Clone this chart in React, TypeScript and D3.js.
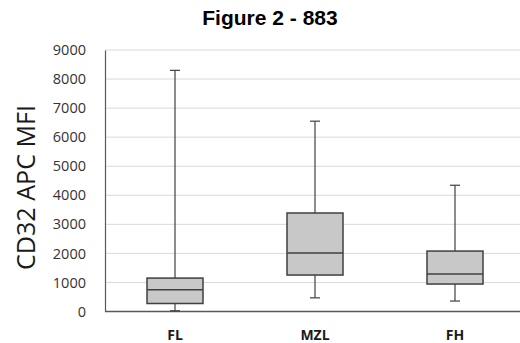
import * as d3 from 'd3';
import { useEffect, useRef } from 'react';

// Category labels and box-plot statistics
const categories = ['FL', 'MZL', 'FH'];
const whiskerLow = [25, 470, 360];
const q1 = [275, 1255, 945];
const median = [750, 2010, 1290];
const q3 = [1150, 3390, 2080];
const whiskerHigh = [8300, 6550, 4345];
const yTicks = [0, 1000, 2000, 3000, 4000, 5000, 6000, 7000, 8000, 9000];

const App = () => {
    const ref = useRef<SVGSVGElement | null>(null);

    useEffect(() => {
        const svg = d3.select(ref.current);
        svg.selectAll('*').remove();

        const left = 105;
        const right = 525;
        const top = 50;
        const bottom = 311.5;

        const x = d3.scaleBand().domain(categories).range([left, right]).padding(0);
        const y = d3.scaleLinear().domain([0, 9000]).range([bottom, top]);

        const data = categories.map((c, i) => ({
            cat: c,
            lo: whiskerLow[i],
            q1: q1[i],
            med: median[i],
            q3: q3[i],
            hi: whiskerHigh[i],
        }));

        // Gridlines
        svg.append('g')
            .selectAll('line')
            .data(yTicks.filter((t) => t > 0))
            .enter()
            .append('line')
            .attr('x1', left)
            .attr('x2', 520)
            .attr('y1', (d) => y(d))
            .attr('y2', (d) => y(d))
            .attr('stroke', '#d9d9d9')
            .attr('stroke-width', 1);

        // Y axis
        const yAxisG = svg.append('g')
            .attr('transform', `translate(${left},0)`)
            .call(d3.axisLeft(y).tickValues(yTicks).tickSize(0).tickPadding(19).tickFormat(d3.format('d')));
        yAxisG.select('.domain').attr('stroke', '#595959').attr('stroke-width', 1.2);
        yAxisG.selectAll('text')
            .style('font-size', '14.5px')
            .style('font-family', 'Open Sans, sans-serif')
            .style('fill', '#333');

        // X axis line
        svg.append('line')
            .attr('x1', left)
            .attr('x2', 520)
            .attr('y1', bottom)
            .attr('y2', bottom)
            .attr('stroke', '#595959')
            .attr('stroke-width', 1.5);

        // X labels
        svg.append('g')
            .selectAll('text')
            .data(categories)
            .enter()
            .append('text')
            .attr('x', (d) => (x(d) as number) + x.bandwidth() / 2)
            .attr('y', 340)
            .attr('text-anchor', 'middle')
            .style('font-size', '14px')
            .style('font-weight', 'bold')
            .style('font-family', 'Open Sans, sans-serif')
            .style('fill', '#1a1a1a')
            .text((d) => d);

        const boxW = x.bandwidth() * 0.4;
        const capW = 10;
        const cx = (d: { cat: string }) => (x(d.cat) as number) + x.bandwidth() / 2;
        const stroke = '#404040';

        const g = svg.append('g');

        // Whiskers
        g.selectAll('.whisker')
            .data(data)
            .enter()
            .append('line')
            .attr('x1', cx)
            .attr('x2', cx)
            .attr('y1', (d) => y(d.lo))
            .attr('y2', (d) => y(d.hi))
            .attr('stroke', stroke)
            .attr('stroke-width', 1.2);

        ['lo', 'hi'].forEach((k) => {
            g.selectAll(`.cap-${k}`)
                .data(data)
                .enter()
                .append('line')
                .attr('x1', (d) => cx(d) - capW / 2)
                .attr('x2', (d) => cx(d) + capW / 2)
                .attr('y1', (d) => y((d as any)[k]))
                .attr('y2', (d) => y((d as any)[k]))
                .attr('stroke', stroke)
                .attr('stroke-width', 1.2);
        });

        // Boxes
        g.selectAll('.box')
            .data(data)
            .enter()
            .append('rect')
            .attr('x', (d) => cx(d) - boxW / 2)
            .attr('y', (d) => y(d.q3))
            .attr('width', boxW)
            .attr('height', (d) => y(d.q1) - y(d.q3))
            .attr('fill', '#c8c8c8')
            .attr('stroke', stroke)
            .attr('stroke-width', 1.5);

        // Medians
        g.selectAll('.med')
            .data(data)
            .enter()
            .append('line')
            .attr('x1', (d) => cx(d) - boxW / 2)
            .attr('x2', (d) => cx(d) + boxW / 2)
            .attr('y1', (d) => y(d.med))
            .attr('y2', (d) => y(d.med))
            .attr('stroke', stroke)
            .attr('stroke-width', 1.5);

        // Y title
        svg.append('text')
            .attr('transform', `translate(35, 187.5) rotate(-90)`)
            .attr('text-anchor', 'middle')
            .attr('textLength', 165)
            .attr('lengthAdjust', 'spacingAndGlyphs')
            .style('font-size', '26px')
            .style('font-family', 'Open Sans, sans-serif')
            .style('fill', '#1a1a1a')
            .text('CD32 APC MFI');

        // Title
        svg.append('text')
            .attr('x', 270)
            .attr('y', 25)
            .attr('text-anchor', 'middle')
            .style('font-size', '21px')
            .style('font-weight', 'bold')
            .style('font-family', 'Liberation Sans, Arial, sans-serif')
            .style('fill', '#000')
            .text('Figure 2 - 883');
    }, []);

    return (
        <svg
            ref={ref}
            width={520}
            height={343}
            style={{ position: 'fixed', left: 0, top: 0, background: '#fff' }}
        />
    );
};

export default App;
